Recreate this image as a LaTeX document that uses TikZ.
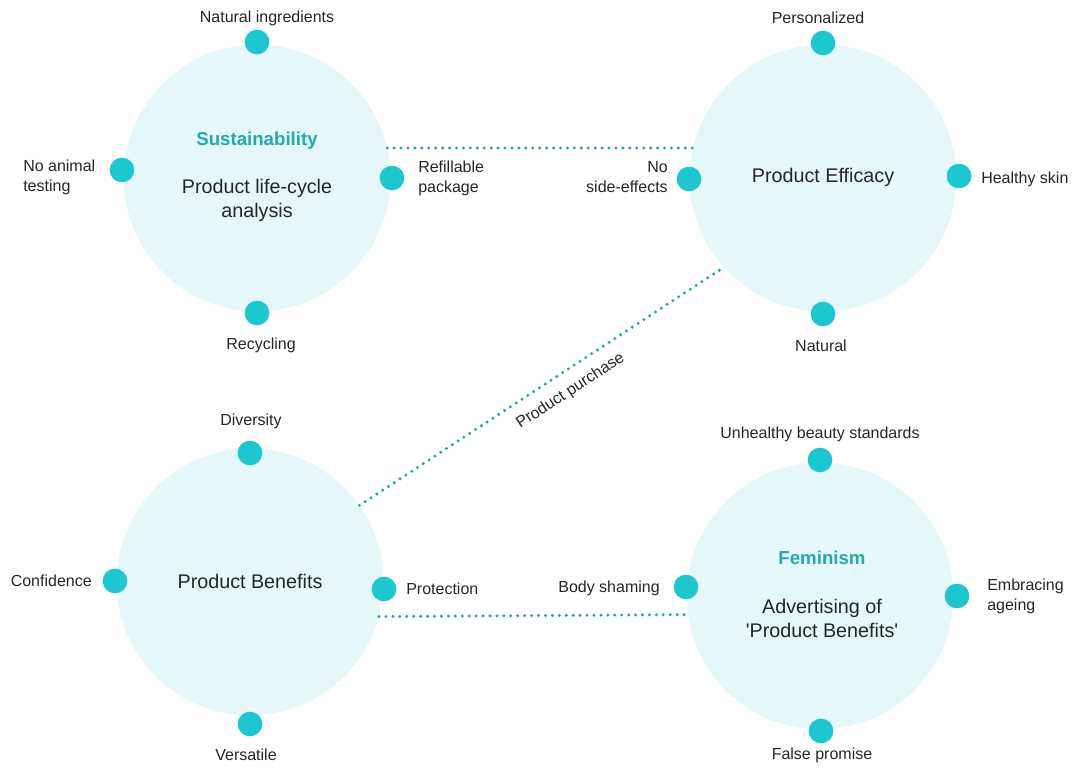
\documentclass[tikz,border=0pt]{standalone}
\usepackage{fontspec}
\setmainfont{Liberation Sans}[Ligatures=TeXOff]
\definecolor{bubble}{HTML}{E6F7FA}
\definecolor{dotcyan}{HTML}{1CC7CF}
\definecolor{headteal}{HTML}{22AAB1}
\definecolor{linkteal}{HTML}{27A4A8}
\begin{document}
\begin{tikzpicture}[x=0.75pt,y=-0.75pt,
    big node/.style={circle,fill=bubble,minimum size=200pt,inner sep=0pt},
    dot node/.style={circle,fill=dotcyan,minimum size=18.5pt,inner sep=0pt},
    label node/.style={inner sep=0pt,text=black!85,font=\fontsize{12}{15}\selectfont},
    head node/.style={inner sep=0pt,text=headteal,font=\fontsize{14}{17}\bfseries},
    main text/.style={inner sep=0pt,align=center,text=black!85,font=\fontsize{14.8}{18}\selectfont},
    link/.style={draw=linkteal,line width=2.5pt,line cap=round,dash pattern=on 0pt off 5.2pt}]
    \useasboundingbox (0,0) rectangle (1077,770);

    % the four circles
    \node[big node] at (257, 178) (sust) {};
    \node[big node] at (823, 178) (eff) {};
    \node[big node] at (250, 582) (ben) {};
    \node[big node] at (820, 596) (fem) {};

    % Sustainability
    \node[head node] at (257, 141) (sust head) {Sustainability};
    \node[main text] at (257, 200) (sust text) {Product life-cycle\\analysis};
    \node[dot node] at (257, 42) (s1) {};
    \node[dot node] at (122, 170) (s2) {};
    \node[dot node] at (392, 178) (s3) {};
    \node[dot node] at (257, 313) (s4) {};
    \node[label node] at (267, 18) (s1 label) {Natural ingredients};
    \node[label node, anchor=west, align=left] at (23, 177) (s2 label) {No animal\\testing};
    \node[label node, anchor=west, align=left] at (418, 178) (s3 label) {Refillable\\package};
    \node[label node] at (261, 345) (s4 label) {Recycling};

    % Product Efficacy
    \node[main text] at (823, 177) (eff text) {Product Efficacy};
    \node[dot node] at (823, 43) (e1) {};
    \node[dot node] at (689, 179) (e2) {};
    \node[dot node] at (959, 176) (e3) {};
    \node[dot node] at (823, 314) (e4) {};
    \node[label node] at (818, 18) (e1 label) {Personalized};
    \node[label node, anchor=east, align=right] at (668, 177) (e2 label) {No\\side-effects};
    \node[label node, anchor=west] at (981, 179) (e3 label) {Healthy skin};
    \node[label node] at (821, 346) (e4 label) {Natural};

    % Product Benefits
    \node[main text] at (250, 581) (ben text) {Product Benefits};
    \node[dot node] at (250, 453) (b1) {};
    \node[dot node] at (115, 581) (b2) {};
    \node[dot node] at (384, 589) (b3) {};
    \node[dot node] at (250, 724) (b4) {};
    \node[label node] at (251, 421) (b1 label) {Diversity};
    \node[label node, anchor=east] at (92, 581) (b2 label) {Confidence};
    \node[label node, anchor=west] at (406, 589) (b3 label) {Protection};
    \node[label node] at (246, 755) (b4 label) {Versatile};

    % Feminism
    \node[head node] at (822, 558) (fem head) {Feminism};
    \node[main text] at (822, 618) (fem text) {Advertising of\\'Product Benefits'};
    \node[dot node] at (820, 460) (f1) {};
    \node[dot node] at (686, 587) (f2) {};
    \node[dot node] at (957, 596) (f3) {};
    \node[dot node] at (821, 731) (f4) {};
    \node[label node] at (820, 434) (f1 label) {Unhealthy beauty standards};
    \node[label node, anchor=east] at (660, 588) (f2 label) {Body shaming};
    \node[label node, anchor=west, align=left] at (987, 596) (f3 label) {Embracing\\ageing};
    \node[label node] at (822, 755) (f4 label) {False promise};

    % links
    \draw[link] (sust.13.5) -- (sust.13.5 -| eff.166.5);
    \draw[link] (ben.35) -- node[label node, sloped, below=8pt, pos=0.55] {Product purchase} (eff.222);
    \draw[link] (ben.-15) -- (fem.188);
\end{tikzpicture}
\end{document}
